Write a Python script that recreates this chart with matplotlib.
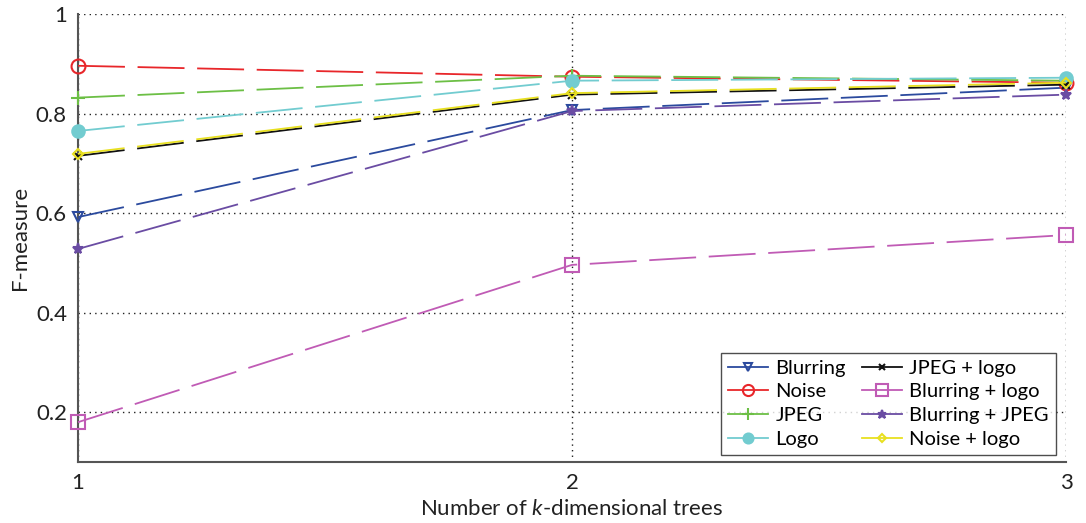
import matplotlib
matplotlib.use("Agg")
import matplotlib.pyplot as plt
from matplotlib.lines import Line2D

x = [1, 2, 3]
blurring = [0.592, 0.807, 0.852]
noise = [0.896, 0.874, 0.862]
jpeg = [0.832, 0.876, 0.866]
logo = [0.765, 0.866, 0.872]
jpeg_logo = [0.715, 0.838, 0.858]
blur_logo = [0.180, 0.496, 0.556]
blur_jpeg = [0.528, 0.805, 0.838]
noise_logo = [0.719, 0.841, 0.862]
labels = ["Blurring", "Noise", "JPEG", "Logo", "JPEG + logo",
          "Blurring + logo", "Blurring + JPEG", "Noise + logo"]

styles = [
    ("#2B4A9E", "v", dict(mfc="none", ms=7)),
    ("#E8262A", "o", dict(mfc="none", ms=10)),
    ("#6CBF45", "+", dict(ms=10)),
    ("#72CCD0", "o", dict(ms=9)),
    ("#111111", "x", dict(ms=6)),
    ("#C05BB5", "s", dict(mfc="none", ms=10)),
    ("#6A4CA3", "*", dict(ms=8)),
    ("#E8E020", "D", dict(mfc="none", ms=5)),
]
data = [blurring, noise, jpeg, logo, jpeg_logo, blur_logo, blur_jpeg, noise_logo]

plt.rcParams['font.family'] = ['Lato', 'DejaVu Sans']
plt.rcParams['mathtext.fontset'] = 'custom'
plt.rcParams['mathtext.it'] = 'Lato:italic'
fig = plt.figure(figsize=(10.86, 5.23), dpi=100)
ax = fig.add_axes([78/1086, (523-462)/523, (1066-78)/1086, (462-14)/523])

for name, vals, (c, m, kw) in zip(labels, data, styles):
    ax.plot(x, vals, color=c, marker=m, lw=1.3, dashes=(26, 7), label=name,
            mec=c, mew=1.5, clip_on=False, zorder=3, **kw)

ax.set_xlim(1, 3)
ax.set_ylim(0.1, 1)
ax.set_xticks([1, 2, 3])
ax.set_xticklabels(["1", "2", "3"])
ax.set_yticks([0.2, 0.4, 0.6, 0.8, 1.0])
ax.set_yticklabels(["0.2", "0.4", "0.6", "0.8", "1"])
ax.tick_params(length=0, labelsize=16, colors="#222222", pad=8)
ax.grid(True, linestyle=(0, (1, 3)), color="#222222", lw=1)
for s in ["top", "right"]:
    ax.spines[s].set_visible(False)
for s in ["left", "bottom"]:
    ax.spines[s].set_color("#555555")
    ax.spines[s].set_linewidth(1.5)

fig.text(0.5 * (78 + 1066) / 1086, 4 / 523, "Number of $k$-dimensional trees",
         ha="center", va="bottom", fontsize=16, color="#222222")
fig.text(20 / 1086, (523 - 238) / 523, "F-measure", rotation=90,
         ha="center", va="center", fontsize=16, color="#222222")

hs = []
for c, m, kw in styles:
    hs.append(Line2D([], [], color=c, marker=m, lw=1.3, mec=c, mew=1.5,
                     **{k: (v * 0.8 if k == "ms" else v) for k, v in kw.items()}))
leg = ax.legend(hs, labels, ncol=2, loc="lower right",
                bbox_to_anchor=((1056 - 78) / 988, 7 / 448), borderaxespad=0,
                fontsize=14.5, frameon=True, fancybox=False, edgecolor="#222222",
                handlelength=2.0, columnspacing=0.8, labelspacing=0.33,
                borderpad=0.35, handletextpad=0.35)
leg.get_frame().set_linewidth(1.0)
leg.set_zorder(5)

fig.savefig("out.png", dpi=100)
